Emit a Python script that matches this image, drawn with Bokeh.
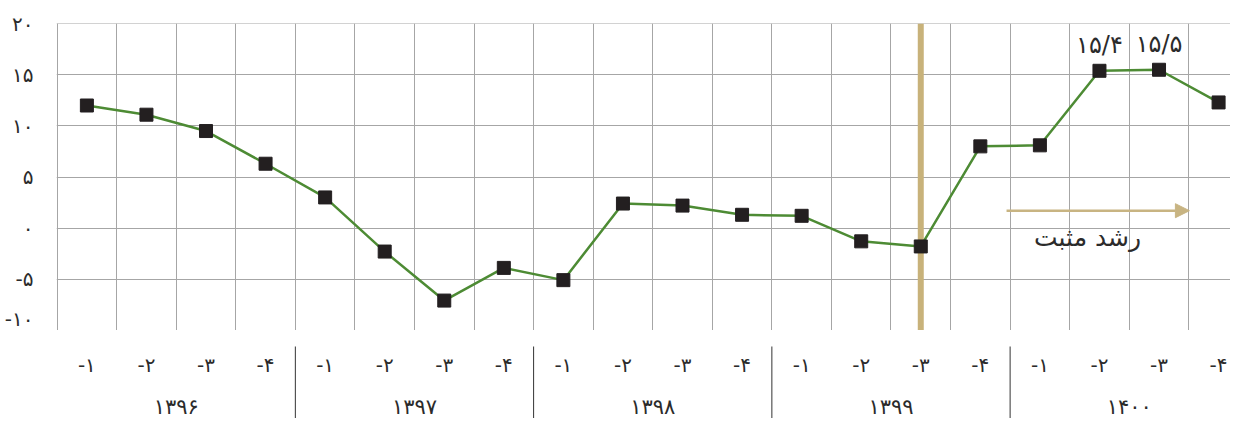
from bokeh.plotting import figure
from bokeh.models import Range1d, FixedTicker, Span, Arrow, NormalHead, Label, Grid
from bokeh.layouts import column
from bokeh.embed import file_html
from bokeh.resources import INLINE
from bokeh.core.properties import value

# ---- data ----
years = ["۱۳۹۶", "۱۳۹۷", "۱۳۹۸", "۱۳۹۹", "۱۴۰۰"]
quarters = ["-۱", "-۲", "-۳", "-۴"]
growth = [12.0, 11.1, 9.5, 6.3, 3.0, -2.3, -7.1, -3.9, -5.1, 2.4,
          2.2, 1.3, 1.2, -1.3, -1.8, 8.0, 8.1, 15.4, 15.5, 12.3]
y_ticks = [-10, -5, 0, 5, 10, 15, 20]
y_tick_labels = ["-۱۰", "-۵", "۰", "۵", "۱۰", "۱۵", "۲۰"]
labeled_points = [17, 18]
break_point = 14
arrow_text = "رشد مثبت"

FA = str.maketrans("0123456789.", "۰۱۲۳۴۵۶۷۸۹/")
def fa(v):
    return ("%g" % v).translate(FA)

FONT = "DejaVu Sans"
TXT = "#2b2b2b"

n = len(growth)
xs = [i + 0.5 for i in range(n)]
quarter_labels = [quarters[i % 4] for i in range(n)]
year_x = [4 * k + 2 for k in range(len(years))]
sep_x = [4 * k for k in range(1, len(years))]

p = figure(width=1230, height=330,
           x_range=Range1d(-0.01, 19.70), y_range=Range1d(-10.03, 20.03),
           x_axis_location=None, y_axis_location="left",
           min_border_left=56, min_border_right=0, min_border_top=23, min_border_bottom=0,
           output_backend="svg", toolbar_location=None)
p.outline_line_color = None
p.grid.visible = False
p.add_layout(Grid(dimension=0, ticker=FixedTicker(ticks=list(range(0, n))),
                  grid_line_color="#a6a6a6", grid_line_width=1))
p.add_layout(Grid(dimension=1, ticker=FixedTicker(ticks=y_ticks),
                  grid_line_color="#a6a6a6", grid_line_width=1))

ax = p.yaxis[0]
ax.ticker = FixedTicker(ticks=y_ticks)
ax.major_label_overrides = {t: l for t, l in zip(y_ticks, y_tick_labels)}
ax.axis_line_color = None
ax.major_tick_line_color = None
ax.minor_tick_line_color = None
ax.major_label_standoff = 17
ax.major_label_text_font = FONT
ax.major_label_text_font_size = "20px"
ax.major_label_text_color = TXT

p.add_layout(Span(location=xs[break_point], dimension="height",
                  line_color="#c8b27a", line_width=6, level="underlay"))

p.add_layout(Arrow(x_start=15.94, y_start=1.7, x_end=19.01, y_end=1.7,
                   line_color="#c8b482", line_width=2.5,
                   end=NormalHead(size=14, fill_color="#c8b482", line_color="#c8b482")))
p.add_layout(Label(x=17.3, y=-0.9, text=arrow_text, text_align="center",
                   text_baseline="middle", text_font=FONT, text_font_size="25px",
                   text_color=TXT))

p.line(xs, growth, line_color="#4d8b34", line_width=2.5)
p.scatter(xs, growth, marker="square", size=13, fill_color="#231f20", line_color="#231f20")

p.text(x=[xs[i] for i in labeled_points], y=[growth[i] for i in labeled_points],
       text=[fa(growth[i]) for i in labeled_points],
       text_align="center", text_baseline="bottom", y_offset=-12,
       text_font=value(FONT), text_font_size="24px", text_color=TXT)

q = figure(width=1230, height=88, x_range=p.x_range, y_range=Range1d(0, 88),
           x_axis_location=None, y_axis_location=None,
           min_border_left=56, min_border_right=0, min_border_top=0, min_border_bottom=0,
           output_backend="svg", toolbar_location=None)
q.outline_line_color = None
q.grid.visible = False
q.text(x=xs, y=[54] * n, text=quarter_labels, text_align="center", text_baseline="middle",
       text_font=value(FONT), text_font_size="20px", text_color=TXT)
q.text(x=year_x, y=[12] * len(years), text=years, text_align="center", text_baseline="middle",
       text_font=value(FONT), text_font_size="21px", text_color=TXT)
q.segment(x0=sep_x, y0=[72] * len(sep_x), x1=sep_x, y1=[0] * len(sep_x),
          line_color="#333333", line_width=1)

layout = column(p, q, spacing=0)
open("out.html", "w").write(file_html(layout, INLINE))
